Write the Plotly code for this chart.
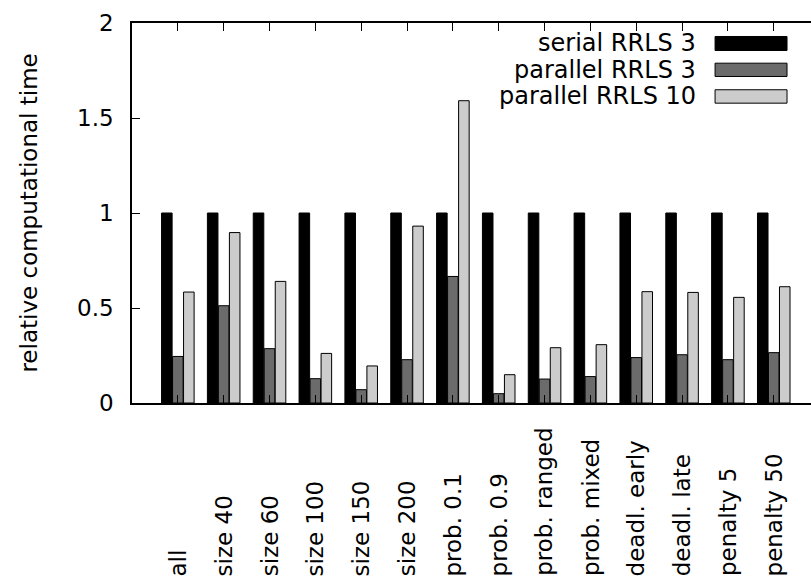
import plotly.graph_objects as go

categories = ["all", "size 40", "size 60", "size 100", "size 150", "size 200",
              "prob. 0.1", "prob. 0.9", "prob. ranged", "prob. mixed",
              "deadl. early", "deadl. late", "penalty 5", "penalty 50"]
series_names = ["serial RRLS 3", "parallel RRLS 3", "parallel RRLS 10"]
serial_rrls3 = [1, 1, 1, 1, 1, 1, 1, 1, 1, 1, 1, 1, 1, 1]
parallel_rrls3 = [0.245, 0.512, 0.286, 0.128, 0.070, 0.228, 0.666, 0.049,
                  0.126, 0.139, 0.239, 0.254, 0.228, 0.265]
parallel_rrls10 = [0.584, 0.897, 0.640, 0.261, 0.195, 0.931, 1.591, 0.149,
                   0.291, 0.307, 0.586, 0.582, 0.556, 0.612]
y_ticks = [0, 0.5, 1, 1.5, 2]
y_tick_labels = ["0", "0.5", "1", "1.5", "2"]

colors = ["#000000", "#6b6b6b", "#cccccc"]
FONT = "DejaVu Sans"
FS = 23
FS_LEG = 24

W, H = 811, 581
L, R, T, B = 131.5, 811.0, 22.5, 402.7


def xp(px):
    return (px - L) / (R - L)


def yp(py):
    return (B - py) / (B - T)


xs = list(range(len(categories)))
fig = go.Figure()
for name, vals, col in zip(series_names, [serial_rrls3, parallel_rrls3, parallel_rrls10], colors):
    fig.add_trace(go.Bar(x=xs, y=vals, name=name, marker=dict(color=col, line=dict(color="#000000", width=1)),
                         showlegend=False, hoverinfo="skip"))

fig.update_layout(
    width=W, height=H,
    margin=dict(l=L, r=W - R, t=T, b=H - B, pad=0),
    paper_bgcolor="white", plot_bgcolor="white",
    barmode="group", bargap=0.28, bargroupgap=0.04,
    font=dict(family=FONT, size=FS, color="#000000"),
    xaxis=dict(range=[-1, (R - 177) / 45.9], tickvals=xs, showticklabels=False,
               ticks="inside", ticklen=8, tickcolor="#000000", tickwidth=1,
               showline=True, linecolor="#000000", linewidth=1.5, mirror="ticks",
               showgrid=False, zeroline=False),
    yaxis=dict(range=[0, 2], tickvals=y_ticks, ticktext=y_tick_labels,
               ticks="inside", ticklen=8, tickcolor="#000000", tickwidth=1,
               showline=True, linecolor="#000000", linewidth=1.5,
               showgrid=False, zeroline=False, ticklabelstandoff=12,
               tickfont=dict(family=FONT, size=FS)),
)

# rotated category labels
for i, c in enumerate(categories):
    fig.add_annotation(x=i, xref="x", y=yp(578), yref="paper", text=c, textangle=-90,
                       showarrow=False, xanchor="center", yanchor="bottom",
                       font=dict(family=FONT, size=FS))

# y axis title
fig.add_annotation(x=xp(28), xref="paper", y=yp(212.6), yref="paper",
                   text="relative computational time", textangle=-90, showarrow=False,
                   xanchor="center", yanchor="middle", font=dict(family=FONT, size=FS))

# gnuplot-style legend (text right, swatch on the right)
rows = [(36, 50), (62.7, 76), (89.3, 102.7)]
for name, col, (y0, y1) in zip(series_names, colors, rows):
    fig.add_annotation(x=xp(698), xref="paper", y=yp((y0 + y1) / 2), yref="paper",
                       text=name, showarrow=False, xanchor="right", yanchor="middle",
                       font=dict(family=FONT, size=FS_LEG))
    fig.add_shape(type="rect", xref="paper", yref="paper",
                  x0=xp(715), x1=xp(787), y0=yp(y1), y1=yp(y0),
                  fillcolor=col, line=dict(color="#000000", width=1))

fig.write_html("out.html", config={"displayModeBar": False},
               post_script="document.body.style.margin='0';document.body.style.overflow='hidden';")
